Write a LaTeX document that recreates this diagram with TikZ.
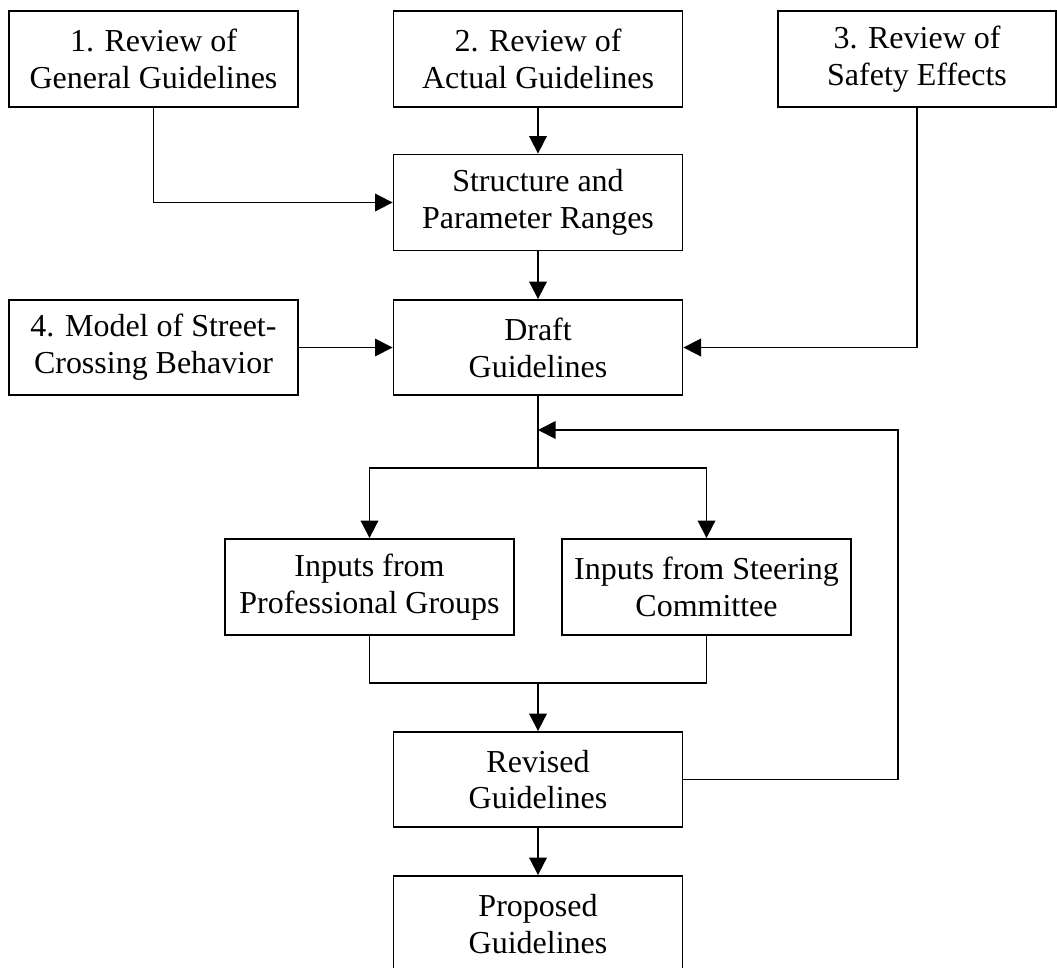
\documentclass[tikz,border=0pt]{standalone}
\usepackage{fontspec}
\setmainfont{Liberation Serif}
\usepackage{tikz}
\usetikzlibrary{arrows.meta, positioning, calc}
\tikzset{
    mainbox/.style={
        rectangle,
        draw=black,
        line width=1.05pt,
        align=center,
        fill=white,
        inner sep=0pt,
        minimum width=5.78cm,
        minimum height=1.92cm,
        font=\fontsize{18.2}{21}\selectfont
    },
    sidebox/.style={
        mainbox,
        line width=0.75pt
    },
    flowline/.style={line width=1.05pt, draw=black},
    flowarrow/.style={-{Triangle[length=10pt, width=10pt]}, line width=1.05pt, draw=black},
    thinarrow/.style={-{Triangle[length=10pt, width=10pt]}, line width=0.75pt, draw=black}
}
\begin{document}
\begin{tikzpicture}[x=1cm,y=1cm]
        \useasboundingbox (0,0) rectangle (21.14,-19.34);
        \node[mainbox] (general) at (3.07,-1.18) {1. Review of\\General Guidelines};
        \node[mainbox] (actual) at (10.76,-1.18) {2. Review of\\Actual Guidelines};
        \node[sidebox, minimum width=5.56cm] (safety) at (18.34,-1.18) {3. Review of\\Safety Effects};
        \node[mainbox] (structure) at (10.76,-4.05) {Structure and\\Parameter Ranges};
        \node[sidebox, minimum height=1.9cm] (model) at (3.07,-6.95) {4. Model of Street-\\Crossing Behavior};
        \node[mainbox, minimum height=1.9cm] (draft) at (10.76,-6.95) {Draft\\Guidelines};
        \node[mainbox] (professional) at (7.39,-11.74) {Inputs from\\Professional Groups};
        \node[mainbox] (steering) at (14.13,-11.74) {Inputs from Steering\\Committee};
        \node[mainbox, minimum height=1.9cm] (revised) at (10.76,-15.59) {Revised\\Guidelines};
        \node[mainbox] (proposed) at (10.76,-18.48) {Proposed\\Guidelines};

        \coordinate (loopin) at (10.76,-8.6);
        \coordinate (loopturn) at (17.96,-8.6);
        \coordinate (split) at (10.76,-9.36);
        \coordinate (merge) at (10.76,-13.66);

        \draw[flowarrow] (general.south) |- (structure.west);
        \draw[flowarrow] (actual.south) -- (structure.north);
        \draw[flowarrow] (safety.south) |- (draft.east);
        \draw[flowarrow] (structure.south) -- (draft.north);
        \draw[thinarrow] (model.east) -- (draft.west);
        \draw[flowline] (draft.south) -- (split);
        \draw[flowarrow] (split) -| (professional.north);
        \draw[flowarrow] (split) -| (steering.north);
        \draw[flowline] (professional.south) |- (merge);
        \draw[flowline] (steering.south) |- (merge);
        \draw[flowarrow] (merge) -- (revised.north);
        \draw[flowarrow] (revised.east) -| (loopturn) -- (loopin);
        \draw[flowarrow] (revised.south) -- (proposed.north);
    \end{tikzpicture}
\end{document}
